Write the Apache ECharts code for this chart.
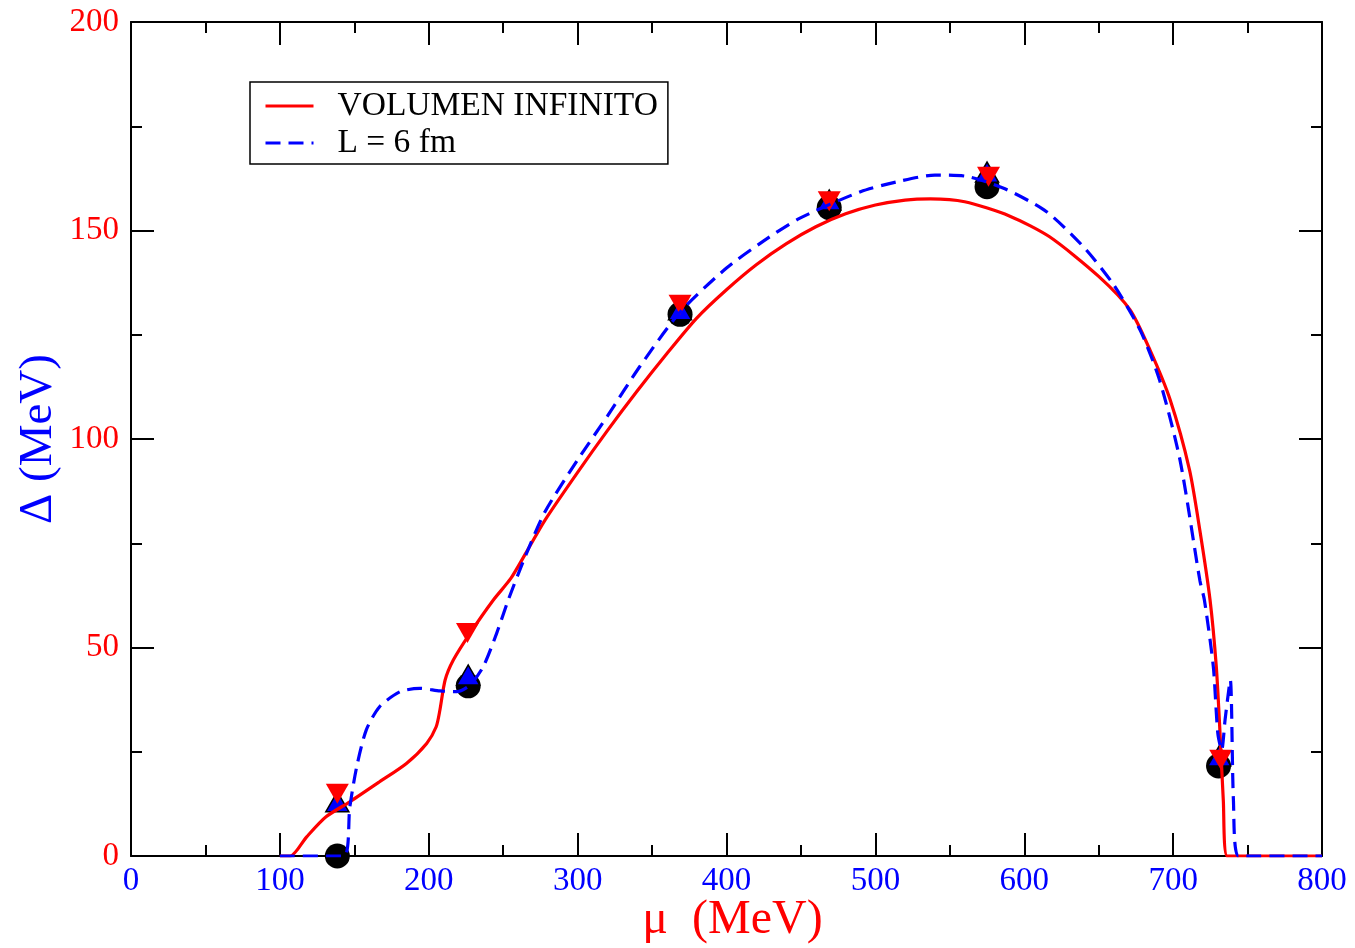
<!DOCTYPE html>
<html>
<head>
<meta charset="utf-8">
<script src="https://cdn.jsdelivr.net/npm/echarts@6/dist/echarts.min.js"></script>
<style>
html,body{margin:0;padding:0;background:#fff;}
#chart{width:1355px;height:948px;}
</style>
</head>
<body>
<div id="chart"></div>
<script>
// ---- data ----
const seriesNames = ['VOLUMEN INFINITO', 'L = 6 fm'];
const xTicks = [0, 100, 200, 300, 400, 500, 600, 700, 800];
const yTicks = [0, 50, 100, 150, 200];

// red solid: infinite volume gap vs mu
const infiniteVolume = [
  [100,0],[107,0],[118,4.6],[131,9.4],[147,13],[167,17.8],[185,22.2],[198.6,27],
  [205,31],[207.5,35],[211,42.2],[216.5,47],[227.7,53.4],[243.4,61.4],[255,66.5],
  [265,72.5],[278,80.5],[300,92],[320,102],[340,111.5],[360,120.5],[380,129],
  [400,135.8],[420,141.8],[440,146.8],[460,150.9],[480,154],[500,156.1],[520,157.3],
  [537,157.6],[560,156.9],[590,153.5],[617,148.5],[650,139],[671,131],[684.5,121.3],
  [698,109.4],[711,92.6],[718,78],[724.8,61.4],[729,45.4],[731.5,29.5],[733.7,13.4],
  [736.4,0],[800,0]
];
// blue dashed: L = 6 fm
const finiteL6 = [
  [100,0],[143,0],[147,11.8],[151.6,21.4],[158,30.2],[167,35.8],[180.7,39.4],
  [194,40.2],[207.5,39.6],[218.8,39.4],[227.7,41],[236.6,45.4],[245.6,53.4],
  [253.4,61.4],[265,72],[278,82.5],[300,95],[320,105.5],[342,117.5],[369,130.5],
  [400,141],[425,147.5],[449,152.9],[490,159.3],[516,161.8],[540,163.3],[561,163],
  [587,160],[615,154.5],[640,146],[660,137],[678,126],[691,114],[704.6,95],
  [718,66],[721,61.4],[727,45.4],[730,29.5],[732.6,25.4],[735,33],[738.4,42.2],
  [740.5,13.4],[743.8,0],[800,0]
];
// symbols
const circlePts = [[138.6,0],[226.5,40.8],[368.8,129.9],[469,155.5],[575,160.5],[730.5,21.6]];
const upTriPts = [[138.6,13],[226.5,43.4],[368.8,131],[469,157.3],[575,164],[731,24]];
const downTriPts = [[138.6,14.9],[226,53.5],[368.8,132.2],[469,157],[576,162.9],[732,23.1]];

const FONT = 'Liberation Serif, Times New Roman, serif';
const chart = echarts.init(document.getElementById('chart'), null, {renderer:'canvas'});

const tickStyle = {show:true, inside:true, length:23, lineStyle:{color:'#000', width:2}};
const minorStyle = {show:true, splitNumber:2, length:11, lineStyle:{color:'#000', width:2}};
const lineAxis = {show:true, onZero:false, lineStyle:{color:'#000', width:2}};

chart.setOption({
  animation:false,
  backgroundColor:'#fff',
  grid:{left:131, right:33, top:22, bottom:92, containLabel:false, outerBoundsMode:'none'},
  legend:{
    data:seriesNames,
    orient:'vertical',
    left:250, top:82,
    padding:[7,10,4,14],
    itemWidth:48, itemHeight:14, itemGap:3,
    borderColor:'#000', borderWidth:1.5, borderRadius:0,
    itemStyle:{opacity:0},
    lineStyle:{width:3},
    textStyle:{fontFamily:FONT, fontSize:33.5, color:'#000', lineHeight:30, padding:[0,0,0,19]},
    selectedMode:false
  },
  xAxis:[
    {type:'value', position:'bottom', min:0, max:800, interval:100,
     axisLine:lineAxis, axisTick:tickStyle, minorTick:minorStyle,
     splitLine:{show:false}, minorSplitLine:{show:false},
     axisLabel:{color:'#0000ff', fontFamily:FONT, fontSize:33, margin:9,
       formatter:v => xTicks.includes(v) ? String(v) : ''},
     name:'μ  (MeV)', nameLocation:'middle', nameGap:40, nameMoveOverlap:false,
     nameTextStyle:{color:'#ff0000', fontFamily:FONT, fontSize:48, padding:[0,0,0,12]}},
    {type:'value', position:'top', min:0, max:800, interval:100,
     axisLine:lineAxis, axisTick:tickStyle, minorTick:minorStyle,
     splitLine:{show:false}, axisLabel:{show:false}}
  ],
  yAxis:[
    {type:'value', position:'left', min:0, max:200, interval:50,
     axisLine:lineAxis, axisTick:tickStyle, minorTick:minorStyle,
     splitLine:{show:false}, minorSplitLine:{show:false},
     axisLabel:{color:'#ff0000', fontFamily:FONT, fontSize:33, margin:12,
       formatter:v => yTicks.includes(v) ? String(v) : ''},
     name:'Δ (MeV)', nameLocation:'middle', nameGap:69, nameMoveOverlap:false,
     nameTextStyle:{color:'#0000ff', fontFamily:FONT, fontSize:47}},
    {type:'value', position:'right', min:0, max:200, interval:50,
     axisLine:lineAxis, axisTick:tickStyle, minorTick:minorStyle,
     splitLine:{show:false}, axisLabel:{show:false}}
  ],
  series:[
    {type:'scatter', name:'circles', data:circlePts, symbol:'circle', symbolSize:25,
     itemStyle:{color:'#000', opacity:1}, z:2, clip:false, silent:true},
    {type:'scatter', name:'up', data:upTriPts, symbol:'triangle', symbolSize:[23,20],
     itemStyle:{color:'#0000ff', borderColor:'#000', borderWidth:1.5, opacity:1}, z:3, clip:false, silent:true},
    {type:'scatter', name:'down', data:downTriPts, symbol:'triangle', symbolSize:[23,20], symbolRotate:180,
     itemStyle:{color:'#ff0000', opacity:1}, z:4, clip:false, silent:true},
    {type:'line', name:seriesNames[0], data:infiniteVolume, showSymbol:false, symbol:'none',
     smooth:0.25,
     lineStyle:{color:'#ff0000', width:3.2, type:'solid'}, itemStyle:{color:'#ff0000'}, z:5, silent:true},
    {type:'line', name:seriesNames[1], data:finiteL6, showSymbol:false, symbol:'none',
     smooth:0.25,
     lineStyle:{color:'#0000ff', width:3.2, type:[15,8]}, itemStyle:{color:'#0000ff'}, z:6, silent:true}
  ]
});
</script>
</body>
</html>
